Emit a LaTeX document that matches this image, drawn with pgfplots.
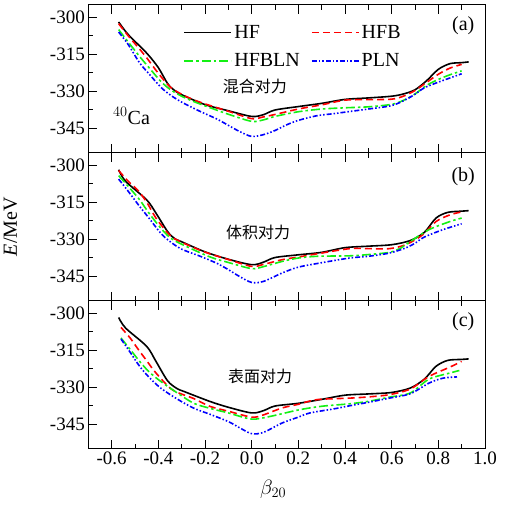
\documentclass[border=0pt]{standalone}
\usepackage{pgfplots}
\pgfplotsset{compat=1.18}
\usepackage{fontspec}
\setmainfont{Liberation Serif}
\newfontfamily\cjk{Noto Sans CJK SC}
\definecolor{cblue}{RGB}{0,0,255}
\definecolor{cred}{RGB}{255,0,0}
\definecolor{cgreen}{RGB}{20,240,20}
\pgfplotsset{
  panel/.style={
    scale only axis, width=396.7pt, height=148pt,
    xmin=-0.7, xmax=1.0, ymin=-355, ymax=-295,
    xtick={-0.6,-0.4,-0.2,0,0.2,0.4,0.6,0.8,1.0},
    minor x tick num=1,
    ytick={-300,-315,-330,-345},
    minor y tick num=1,
    xtick pos=both, ytick pos=left,
    tick align=inside,
    major tick length=9pt, minor tick length=5pt,
    every tick/.style={black, line width=0.8pt},
    axis line style={line width=1pt},
    /pgf/number format/assume math mode=true,
    tick label style={font=\fontsize{19}{22}\selectfont},
    xticklabel style={/pgf/number format/.cd, fixed, fixed zerofill, precision=1},
    yticklabel style={/pgf/number format/.cd, fixed, precision=0},
    every axis plot/.append style={line width=1.6pt, smooth, tension=0.5},
  },
  hf/.style={black, solid},
  hfb/.style={cred, dash pattern=on 7pt off 4pt},
  hfbln/.style={cgreen, dash pattern=on 9pt off 3pt on 2.5pt off 3pt},
  pln/.style={cblue, dash pattern=on 5pt off 2pt on 1.5pt off 2pt on 1.5pt off 2pt},
}
\begin{document}
\begin{tikzpicture}
\useasboundingbox (-88.3pt,4.7pt) rectangle (418.7pt,-503.3pt);
% ---------------- panel (a)
\begin{axis}[panel, at={(0pt,0pt)}, anchor=north west, xticklabels={},
  legend columns=2, legend cell align=left,
  legend style={at={(axis description cs:0.232,0.89)}, anchor=north west, draw=none, fill=none,
    font=\fontsize{20}{22}\selectfont, /tikz/every even column/.append style={column sep=9pt},
    row sep=10pt},
  legend image code/.code={\draw[#1, line width=1.8pt] (0pt,0pt) -- (47pt,0pt);}]
\addplot[hf] coordinates {(-0.57,-302) (-0.53,-307) (-0.45,-314.6) (-0.4,-320.5) (-0.36,-327) (-0.33,-329.8) (-0.3,-331.5) (-0.2,-335.5) (-0.1,-338) (0,-340.3) (0.05,-339.6) (0.1,-337.7) (0.2,-336.3) (0.3,-335) (0.4,-333.4) (0.5,-332.8) (0.6,-332.1) (0.65,-331.2) (0.7,-329.5) (0.75,-325.8) (0.8,-321.2) (0.85,-318.9) (0.9,-318.5) (0.93,-318.2)};
\addlegendentry{HF}
\addplot[hfb] coordinates {(-0.57,-302.7) (-0.53,-307.5) (-0.49,-311.9) (-0.45,-316.5) (-0.4,-322.8) (-0.35,-328.3) (-0.3,-331.3) (-0.25,-333.5) (-0.2,-335.2) (-0.1,-338.2) (0,-341.2) (0.05,-340.5) (0.1,-339.5) (0.2,-337.3) (0.3,-335.6) (0.4,-333.7) (0.5,-333.5) (0.6,-333.3) (0.65,-332.1) (0.7,-329.8) (0.75,-326.5) (0.8,-323.2) (0.85,-320.7) (0.9,-319.2)};
\addlegendentry{HFB}
\addplot[hfbln] coordinates {(-0.57,-305.1) (-0.53,-310) (-0.48,-316) (-0.44,-320.5) (-0.39,-326) (-0.35,-329.3) (-0.3,-332.1) (-0.25,-334.2) (-0.2,-336) (-0.1,-339.4) (0,-342.3) (0.05,-341.7) (0.1,-340.3) (0.2,-338.4) (0.3,-337.3) (0.4,-336.8) (0.5,-336.4) (0.6,-335.4) (0.65,-333.8) (0.7,-331.2) (0.75,-327.7) (0.8,-325.3) (0.85,-323.4) (0.9,-321.8)};
\addlegendentry{HFBLN}
\addplot[pln] coordinates {(-0.57,-306.1) (-0.53,-311) (-0.48,-318.6) (-0.44,-323) (-0.39,-328.4) (-0.35,-331.5) (-0.3,-334.5) (-0.22,-338.3) (-0.15,-341.3) (-0.1,-343.9) (-0.05,-346.5) (0,-348.4) (0.05,-347.7) (0.1,-346) (0.15,-343.7) (0.2,-341.9) (0.28,-340) (0.35,-339.2) (0.42,-338.3) (0.5,-337.3) (0.6,-335.9) (0.66,-333.5) (0.7,-331.3) (0.74,-328.7) (0.8,-326.4) (0.85,-324.7) (0.9,-323)};
\addlegendentry{PLN}
\node[font=\fontsize{20}{22}\selectfont] at (axis description cs:0.945,0.86) {(a)};
\node[font=\cjk\fontsize{16}{18}\selectfont] at (axis description cs:0.42,0.45) {混合对力};
\node[font=\fontsize{20}{22}\selectfont] at (axis description cs:0.109,0.25) {$^{40}$Ca};
\end{axis}
% ---------------- panel (b)
\begin{axis}[panel, at={(0pt,-148pt)}, anchor=north west, xticklabels={},
  ylabel={\textit{E}/MeV},
  ylabel style={at={(axis description cs:-0.196,0.5)}, anchor=center, font=\fontsize{20}{22}\selectfont}]
\addplot[hf] coordinates {(-0.57,-301.9) (-0.54,-306.6) (-0.45,-314.1) (-0.41,-319.5) (-0.36,-327) (-0.33,-329.8) (-0.3,-331.1) (-0.2,-335.2) (-0.1,-338.2) (0,-340.4) (0.05,-339.4) (0.1,-337.5) (0.2,-336.4) (0.3,-335.4) (0.4,-333.5) (0.5,-332.9) (0.6,-332.3) (0.68,-330.6) (0.74,-327.3) (0.79,-321.5) (0.84,-319.2) (0.9,-318.7) (0.93,-318.5)};
\addplot[hfb] coordinates {(-0.57,-302.2) (-0.53,-306.5) (-0.49,-310) (-0.45,-315) (-0.41,-321.5) (-0.35,-328.5) (-0.3,-331.3) (-0.2,-335.3) (-0.1,-338.3) (0,-341.1) (0.05,-340.3) (0.13,-338.4) (0.2,-337.3) (0.28,-336) (0.42,-333.9) (0.5,-333.9) (0.59,-333.9) (0.66,-332.3) (0.73,-328.5) (0.79,-322.9) (0.85,-320.2) (0.9,-319)};
\addplot[hfbln] coordinates {(-0.57,-304.3) (-0.53,-308.5) (-0.48,-314.1) (-0.44,-319.5) (-0.39,-325.5) (-0.35,-329.4) (-0.3,-332.1) (-0.18,-337.2) (-0.1,-339.5) (0,-342) (0.05,-341.2) (0.13,-339.1) (0.2,-337.7) (0.28,-337) (0.42,-336.8) (0.5,-336.3) (0.59,-335.4) (0.64,-333.6) (0.68,-331) (0.76,-326.2) (0.85,-322.9) (0.9,-321.5)};
\addplot[pln] coordinates {(-0.57,-305.7) (-0.53,-310.5) (-0.48,-316.8) (-0.44,-321.5) (-0.39,-327.6) (-0.35,-331) (-0.3,-334.1) (-0.22,-337) (-0.15,-339.8) (-0.1,-342.4) (-0.05,-345.3) (0,-347.6) (0.05,-347.2) (0.13,-343.8) (0.2,-341.4) (0.3,-339.6) (0.42,-337.7) (0.5,-337) (0.59,-335.7) (0.66,-333.6) (0.7,-331.7) (0.74,-329.2) (0.82,-326.2) (0.9,-323.8)};
\node[font=\fontsize{20}{22}\selectfont] at (axis description cs:0.945,0.84) {(b)};
\node[font=\cjk\fontsize{16}{18}\selectfont] at (axis description cs:0.428,0.46) {体积对力};
\end{axis}
% ---------------- panel (c)
\begin{axis}[panel, at={(0pt,-296pt)}, anchor=north west,
  xlabel={$\beta_{20}$},
  xlabel style={at={(axis description cs:0.466,-0.277)}, anchor=center, font=\fontsize{20}{22}\selectfont}]
\addplot[hf] coordinates {(-0.57,-301.8) (-0.54,-306.1) (-0.45,-313.5) (-0.41,-319.6) (-0.36,-327.5) (-0.32,-330.6) (-0.29,-331.8) (-0.18,-335.8) (-0.1,-338.2) (0,-340.5) (0.05,-339.6) (0.1,-337.7) (0.2,-336.6) (0.3,-335) (0.4,-333.3) (0.5,-332.8) (0.6,-332.2) (0.68,-330.4) (0.74,-326.8) (0.79,-321.6) (0.84,-319.2) (0.9,-318.8) (0.93,-318.6)};
\addplot[hfb] coordinates {(-0.56,-305.8) (-0.52,-310.2) (-0.49,-314.2) (-0.45,-319.3) (-0.41,-324.3) (-0.34,-331.1) (-0.25,-334.6) (-0.18,-337.8) (-0.1,-339.8) (0,-342.2) (0.05,-341.3) (0.13,-338.5) (0.2,-337) (0.28,-335.1) (0.42,-334.5) (0.5,-334) (0.59,-333.1) (0.68,-330.8) (0.76,-325.7) (0.85,-321.9) (0.9,-319.6)};
\addplot[hfbln] coordinates {(-0.56,-310.1) (-0.52,-314.8) (-0.48,-319.6) (-0.44,-323.8) (-0.39,-327.7) (-0.32,-332.3) (-0.25,-336.5) (-0.18,-338.6) (-0.1,-340.5) (0,-343) (0.08,-341.9) (0.2,-339.3) (0.3,-337.8) (0.42,-336.8) (0.5,-335.8) (0.59,-334.1) (0.68,-332.4) (0.76,-326.8) (0.85,-324.3) (0.89,-323.3)};
\addplot[pln] coordinates {(-0.56,-310.5) (-0.52,-316) (-0.48,-321.6) (-0.44,-326) (-0.39,-330.4) (-0.32,-334.8) (-0.25,-338.5) (-0.18,-341) (-0.1,-344) (-0.05,-346.6) (0,-348.9) (0.05,-348.4) (0.13,-344.6) (0.2,-342.2) (0.25,-340.5) (0.35,-338.9) (0.42,-337.6) (0.5,-336.2) (0.59,-334.5) (0.68,-332.7) (0.76,-328.4) (0.82,-326.4) (0.88,-325.9)};
\node[font=\fontsize{20}{22}\selectfont] at (axis description cs:0.945,0.86) {(c)};
\node[font=\cjk\fontsize{16}{18}\selectfont] at (axis description cs:0.433,0.486) {表面对力};
\end{axis}
\end{tikzpicture}
\end{document}
